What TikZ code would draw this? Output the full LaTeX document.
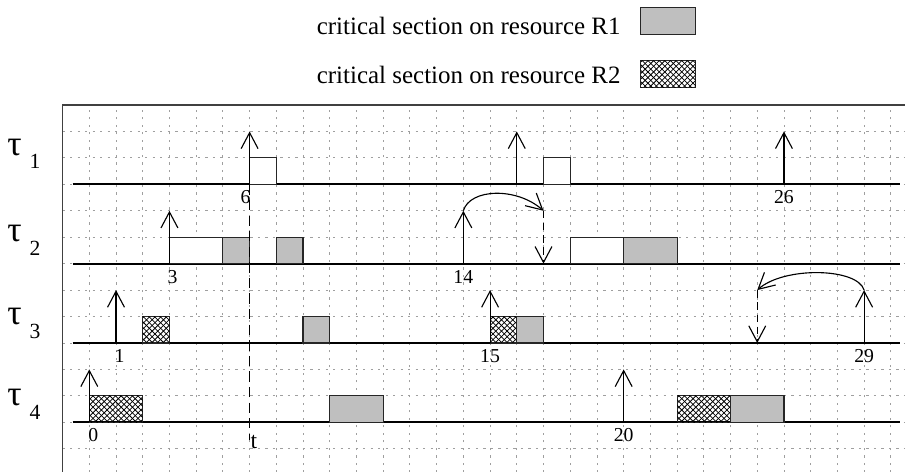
\documentclass[tikz,border=0pt]{standalone}
\usepackage{fontspec}
\setmainfont{Liberation Serif}
\usetikzlibrary{arrows.meta,patterns}
\begin{document}
\begin{tikzpicture}[x=0.5cm,y=0.4948cm,
  gridline/.style={gray!75, line width=0.45pt, dash pattern=on 1.2pt off 2.8pt},
  frameline/.style={black!75, line width=0.8pt},
  baseline/.style={black, line width=1pt},
  job/.style={draw=black!85, line width=0.6pt, fill=white},
  rone/.style={draw=black!85, line width=0.6pt, fill=gray!50},
  rtwo/.style={draw=black!85, line width=0.6pt, pattern=north east lines, postaction={pattern=north west lines}},
  rel/.style={black, line width=0.6pt, -{Straight Barb[length=8.5pt,width=9pt]}},
  inh/.style={black, line width=0.6pt, dash pattern=on 4pt off 2.5pt, -{Straight Barb[length=8.5pt,width=9pt]}},
  tline/.style={black, line width=0.6pt, dash pattern=on 5.5pt off 2.8pt},
  lab/.style={inner sep=0pt, font=\fontsize{10.5}{12}\selectfont},
  taulab/.style={inner sep=0pt, font=\fontsize{19}{22}\selectfont},
  sublab/.style={inner sep=0pt, font=\fontsize{11.5}{13}\selectfont},
  legtext/.style={inner sep=0pt, anchor=base east, font=\fontsize{13.3}{15}\selectfont}
]
\useasboundingbox (-3.342,-1.878) rectangle (30.53,15.972);
\clip (-3.342,-1.878) rectangle (30.53,15.972);
% grid
\foreach \x in {0,...,30} \draw[gridline] (\x,-1.9) -- (\x,12);
\foreach \y in {-1,...,11} \draw[gridline] (-1,\y) -- (30.6,\y);
% frame
\draw[frameline] (-1,-2.5) -- (-1,12) -- (31,12);
% baselines
\foreach \b in {0,3,6,9} \draw[baseline] (-0.62,\b) -- (30.34,\b);
% legend
\node[legtext] (leg1) at (19.9,14.67) {critical section on resource R1};
\node[legtext] (leg2) at (19.9,12.82) {critical section on resource R2};
\draw[rone] (20.64,14.68) rectangle (22.7,15.69);
\draw[rtwo] (20.64,12.67) rectangle (22.7,13.70);
% task labels
\node[taulab] (tau1) at (-2.8,10.41) {τ};
\node[sublab] (s1) at (-2.03,9.88) {1};
\node[taulab] (tau2) at (-2.8,7.15) {τ};
\node[sublab] (s2) at (-2.03,6.59) {2};
\node[taulab] (tau3) at (-2.8,4.02) {τ};
\node[sublab] (s3) at (-2.03,3.45) {3};
\node[taulab] (tau4) at (-2.8,0.92) {τ};
\node[sublab] (s4) at (-2.03,0.39) {4};
% tau1
\draw[job] (6,9) rectangle (7,10);
\draw[job] (17,9) rectangle (18,10);
\draw[rel] (6,9) -- (6,11);
\draw[rel] (16,9) -- (16,11);
\draw[rel] (26,9) -- (26,11);
\node[lab] (l6) at (5.85,8.5) {6};
\node[lab] (l26) at (26,8.5) {26};
% tau2
\draw[job] (3,6) rectangle (5,7);
\draw[rone] (5,6) rectangle (6,7);
\draw[rone] (7,6) rectangle (8,7);
\draw[job] (18,6) rectangle (20,7);
\draw[rone] (20,6) rectangle (22,7);
\draw[rel] (3,6) -- (3,8);
\coordinate (a14) at (14,8);
\coordinate (b17) at (17,8);
\draw[rel] (14,6) -- (a14);
\draw[rel] (a14) .. controls (14.25,8.85) and (16.0,8.9) .. (b17);
\draw[inh] (b17) -- (17,6);
\node[lab] (l3) at (3.12,5.5) {3};
\node[lab] (l14) at (14,5.5) {14};
% tau3
\draw[rtwo] (2,3) rectangle (3,4);
\draw[rone] (8,3) rectangle (9,4);
\draw[rtwo] (15,3) rectangle (16,4);
\draw[rone] (16,3) rectangle (17,4);
\draw[rel] (1,3) -- (1,5);
\draw[rel] (15,3) -- (15,5);
\coordinate (a29) at (29,5);
\coordinate (b25) at (25,5);
\draw[rel] (29,3) -- (a29);
\draw[rel] (a29) .. controls (28.75,5.85) and (26.0,5.9) .. (b25);
\draw[inh] (b25) -- (25,3);
\node[lab] (l1) at (1.13,2.5) {1};
\node[lab] (l15) at (15,2.5) {15};
\node[lab] (l29) at (29,2.5) {29};
% tau4
\draw[rtwo] (0,0) rectangle (2,1);
\draw[rone] (9,0) rectangle (11,1);
\draw[rtwo] (22,0) rectangle (24,1);
\draw[rone] (24,0) rectangle (26,1);
\draw[rel] (0,0) -- (0,2);
\draw[rel] (20,0) -- (20,2);
\node[lab] (l0) at (0.15,-0.5) {0};
\node[lab] (l20) at (20,-0.5) {20};
% time t
\draw[tline] (6,9) -- (6,-0.68);
\node[inner sep=0pt, font=\fontsize{12.5}{14}\selectfont] (tt) at (6.16,-0.75) {t};
\end{tikzpicture}
\end{document}
